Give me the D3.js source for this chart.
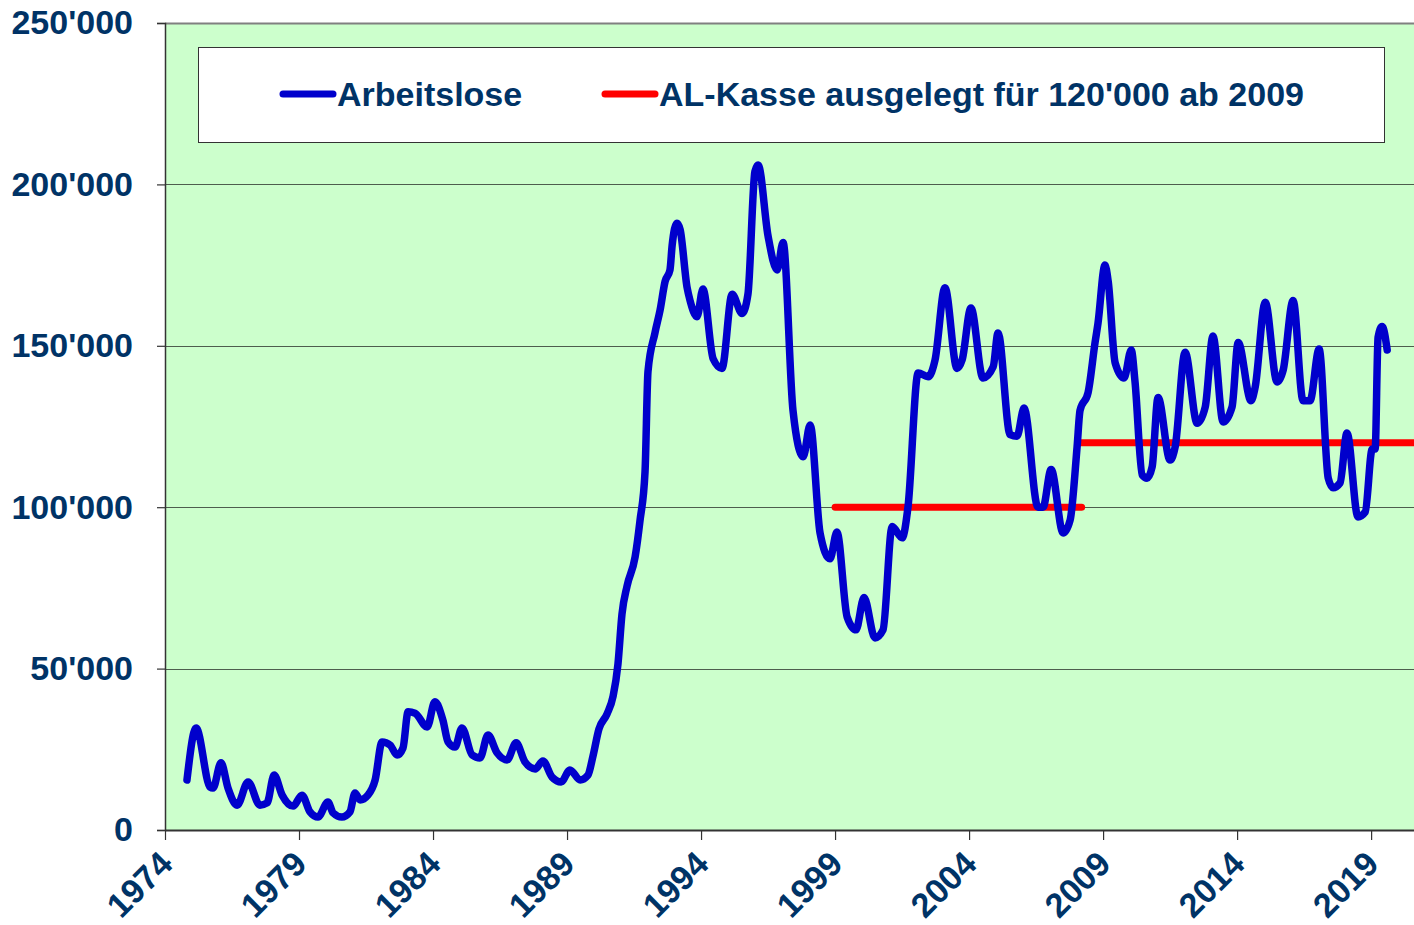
<!DOCTYPE html>
<html>
<head>
<meta charset="utf-8">
<script src="https://cdn.jsdelivr.net/npm/d3@7"></script>
<style>
  html, body { margin: 0; padding: 0; background: #fff; }
  svg { display: block; }
  text { font-family: "Liberation Sans", Arial, sans-serif; font-weight: bold; fill: #003366; }
</style>
</head>
<body>
<svg class="chart"></svg>
<script>
const W = 1414;
const H = 925;
const MARGIN = { top: 23, right: 0, bottom: 95, left: 165 };
const TEXT = '#003366';
const FONT_SIZE = 34;

// Arbeitslose (decimal year / persons)
const years = [
  1974.82, 1975.16, 1975.68, 1975.79, 1976.09, 1976.35, 1976.69, 1977.10, 1977.54, 1977.81,
  1978.07, 1978.37, 1978.78, 1979.11, 1979.41, 1979.71, 1980.08, 1980.27, 1980.60, 1980.90,
  1981.09, 1981.28, 1981.57, 1981.84, 1982.10, 1982.40, 1982.66, 1982.88, 1983.07, 1983.33,
  1983.78, 1984.07, 1984.37, 1984.56, 1984.82, 1985.08, 1985.46, 1985.75, 1986.05, 1986.39,
  1986.76, 1987.10, 1987.43, 1987.81, 1988.10, 1988.44, 1988.78, 1989.11, 1989.49, 1989.78,
  1989.97, 1990.19, 1990.49, 1990.72, 1990.90, 1991.05, 1991.24, 1991.54, 1991.72, 1991.91,
  1992.02, 1992.28, 1992.47, 1992.66, 1992.84, 1992.92, 1993.10, 1993.22, 1993.48, 1993.59,
  1993.85, 1994.07, 1994.45, 1994.78, 1995.16, 1995.53, 1995.75, 1996.01, 1996.13, 1996.50,
  1996.84, 1997.06, 1997.43, 1997.81, 1998.07, 1998.44, 1998.81, 1999.07, 1999.45, 1999.78,
  2000.08, 2000.49, 2000.79, 2001.13, 2001.50, 2001.72, 2002.10, 2002.47, 2002.73, 2003.10,
  2003.55, 2003.74, 2004.07, 2004.52, 2004.90, 2005.08, 2005.53, 2005.79, 2006.05, 2006.57,
  2006.76, 2007.06, 2007.51, 2007.77, 2008.03, 2008.14, 2008.44, 2008.70, 2008.81, 2009.07,
  2009.19, 2009.45, 2009.78, 2010.05, 2010.19, 2010.46, 2010.64, 2010.83, 2011.05, 2011.50,
  2011.69, 2012.06, 2012.51, 2012.81, 2013.10, 2013.48, 2013.81, 2014.04, 2014.52, 2014.67,
  2015.05, 2015.49, 2015.72, 2016.09, 2016.46, 2016.72, 2017.06, 2017.40, 2017.58, 2017.84,
  2018.10, 2018.51, 2018.78, 2019.04, 2019.15, 2019.26, 2019.41, 2019.60
];
const arbeitslose = [
  15500, 31600, 13300, 13000, 20800, 13000, 7700, 14900, 7700, 8400,
  17000, 10800, 7400, 10800, 5600, 4000, 8700, 5300, 4000, 5600,
  11500, 9300, 10800, 15500, 27300, 26300, 23200, 25400, 36600, 36200,
  31900, 39700, 34000, 27300, 25700, 31600, 23200, 22300, 29400, 23900,
  21700, 27000, 21100, 18900, 21400, 16400, 14900, 18600, 15500, 17000,
  23000, 31300, 35900, 41500, 51400, 66900, 75600, 84600, 95700, 111000,
  142000, 154000, 161000, 170000, 173500, 181000, 188000, 186000, 168000, 164000,
  159000, 167600, 146000, 143000, 166000, 160000, 166000, 204000, 206000, 184000,
  173500, 182000, 130000, 115600, 125500, 92000, 84000, 92300, 66000, 62000,
  72000, 59500, 62000, 94000, 90500, 100000, 141600, 140400, 145600, 168000,
  143000, 145600, 161700, 140000, 143500, 154000, 122500, 122000, 130700, 100000,
  100000, 111700, 92000, 96000, 118700, 130000, 135500, 151000, 157000, 175000,
  170000, 144700, 140000, 148700, 139000, 110000, 109000, 112500, 134000, 114600,
  118700, 148000, 126000, 131000, 153000, 126400, 131000, 151000, 133000, 137000,
  163500, 138800, 142500, 164000, 133000, 133000, 149000, 109000, 106000, 107500,
  123000, 97000, 98500, 118000, 118000, 152700, 156000, 148700
];

// AL-Kasse ausgelegt fuer ... (segments)
const kasseFrom = [1999.0, 2008.05];
const kasseTo = [2008.2, 2021.0];
const kasseLevel = [100000, 120000];

const yearTicks = [1974, 1979, 1984, 1989, 1994, 1999, 2004, 2009, 2014, 2019];
const valueTicks = [0, 50000, 100000, 150000, 200000, 250000];
const legendLabels = ['Arbeitslose', "AL-Kasse ausgelegt für 120'000 ab 2009"];

const fmt = d3.formatLocale({ decimal: '.', thousands: "'", grouping: [3], currency: ['', ''] }).format(',d');

const svg = d3.select('svg.chart').attr('width', W).attr('height', H);

const x = d3.scaleLinear().domain([1974, 2020.6]).range([MARGIN.left, W - MARGIN.right]);
const y = d3.scaleLinear().domain([0, 250000]).range([H - MARGIN.bottom, MARGIN.top]);

// plot area
svg.append('rect')
  .attr('x', x(1974)).attr('y', y(250000))
  .attr('width', x(2020.6) - x(1974)).attr('height', y(0) - y(250000))
  .attr('fill', '#CCFFCC');

// grid lines
svg.append('g')
  .selectAll('line')
  .data(valueTicks.filter(d => d > 0))
  .join('line')
    .attr('x1', x(1974)).attr('x2', x(2020.6))
    .attr('y1', d => Math.round(y(d)) + 0.5).attr('y2', d => Math.round(y(d)) + 0.5)
    .attr('stroke', d => d === 250000 ? '#808080' : '#4d5d4d')
    .attr('stroke-width', d => d === 250000 ? 2 : 1.2);

// y axis
const yAxis = svg.append('g')
  .attr('transform', `translate(${x(1974)},0)`)
  .call(d3.axisLeft(y).tickValues(valueTicks).tickFormat(fmt).tickSize(8).tickPadding(24));
yAxis.select('.domain').attr('stroke', '#333').attr('stroke-width', 1.5);
yAxis.selectAll('.tick line').attr('stroke', '#333').attr('stroke-width', 1.2);
yAxis.selectAll('text')
  .attr('font-size', FONT_SIZE).attr('font-family', '"Liberation Sans", Arial, sans-serif')
  .attr('font-weight', 'bold').attr('fill', TEXT);

// x axis
const xAxis = svg.append('g')
  .attr('transform', `translate(0,${y(0)})`)
  .call(d3.axisBottom(x).tickValues(yearTicks).tickFormat(d3.format('d')).tickSize(10).tickSizeOuter(0));
xAxis.select('.domain').attr('stroke', '#333').attr('stroke-width', 2);
xAxis.selectAll('.tick line').attr('stroke', '#333').attr('stroke-width', 1.2);
xAxis.selectAll('text')
  .attr('font-size', FONT_SIZE).attr('font-family', '"Liberation Sans", Arial, sans-serif')
  .attr('font-weight', 'bold').attr('fill', TEXT)
  .attr('text-anchor', 'end')
  .attr('dy', null).attr('y', 0)
  .attr('transform', 'translate(9,36) rotate(-45)');

// legend
const legend = svg.append('g');
legend.append('rect')
  .attr('x', 198.5).attr('y', 47.5).attr('width', 1186).attr('height', 95)
  .attr('fill', '#fff').attr('stroke', '#333').attr('stroke-width', 1);
const legendX = [283, 605];
const legendColors = ['#0000CC', '#FF0000'];
legendLabels.forEach((label, i) => {
  legend.append('line')
    .attr('x1', legendX[i]).attr('x2', legendX[i] + 50)
    .attr('y1', 94).attr('y2', 94)
    .attr('stroke', legendColors[i]).attr('stroke-width', 7).attr('stroke-linecap', 'round');
  legend.append('text')
    .attr('x', legendX[i] + 54).attr('y', 94).attr('dy', '0.35em')
    .attr('font-size', FONT_SIZE).text(label);
});

// AL-Kasse segments
svg.append('g')
  .selectAll('line')
  .data(kasseLevel)
  .join('line')
    .attr('x1', (d, i) => x(kasseFrom[i]))
    .attr('x2', (d, i) => Math.min(x(kasseTo[i]), W + 10))
    .attr('y1', d => y(d)).attr('y2', d => y(d))
    .attr('stroke', '#FF0000').attr('stroke-width', 7).attr('stroke-linecap', 'round');

// Arbeitslose line
const line = d3.line()
  .x((d, i) => x(years[i]))
  .y(d => y(d))
  .curve(d3.curveMonotoneX);

svg.append('path')
  .datum(arbeitslose)
  .attr('d', line)
  .attr('fill', 'none')
  .attr('stroke', '#0000CC')
  .attr('stroke-width', 7.5)
  .attr('stroke-linejoin', 'round')
  .attr('stroke-linecap', 'round');
</script>
</body>
</html>
